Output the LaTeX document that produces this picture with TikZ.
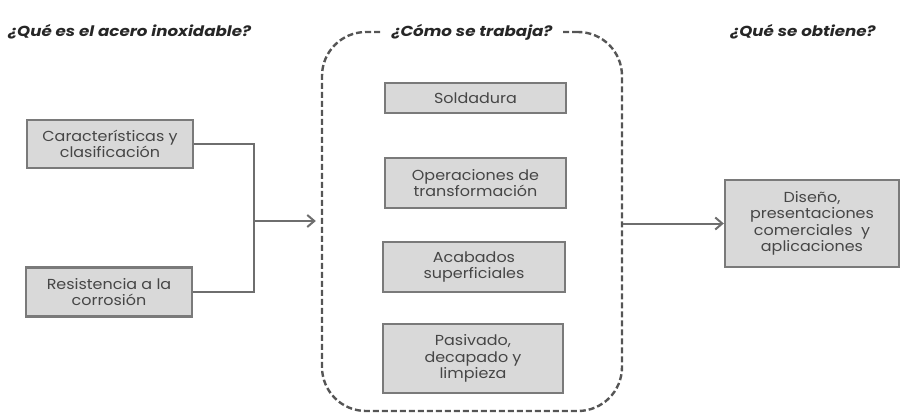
\documentclass[tikz,border=0pt]{standalone}
\usepackage{fontspec}
\setmainfont{Poppins}
\newfontfamily\boxfont[FakeStretch=1.1]{Poppins}
\newfontfamily\ttlfont[FakeStretch=1.15]{Poppins}
\usetikzlibrary{arrows.meta}
\definecolor{boxfill}{HTML}{D9D9D9}
\definecolor{boxline}{HTML}{7A7A7A}
\definecolor{txt}{HTML}{464646}
\definecolor{conn}{HTML}{6E6E6E}
\definecolor{dash}{HTML}{555555}
\begin{document}
\begin{tikzpicture}[x=1pt,y=-1pt,
  gbox/.style={draw=boxline,fill=boxfill,line width=2.4pt,text=txt,align=center,
    font=\boxfont\fontsize{14.5}{16.5}\selectfont,inner sep=0pt},
  ttl/.style={font=\ttlfont\fontsize{14.5}{16}\selectfont\bfseries\itshape,text=black!85},
  conline/.style={draw=conn,line width=2pt},
  conarrow/.style={conline,-{Straight Barb[length=7pt,width=12pt,line width=2pt]}}]
\useasboundingbox (0,0) rectangle (903,415);
% frame
\node[draw=dash,line width=2.4pt,dash pattern=on 6pt off 3pt,rounded corners=44pt,
  minimum width=300pt,minimum height=379pt,inner sep=0pt] (frame) at (472,221.5) {};
% titles
\node[ttl,anchor=west,inner sep=0pt] (t1) at (8,32) {¿Qué es el acero inoxidable?};
\node[ttl,fill=white,inner xsep=11pt,inner ysep=3pt] (t2) at (472,32) {¿Cómo se trabaja?};
\node[ttl,inner sep=0pt] (t3) at (803,32) {¿Qué se obtiene?};
% left boxes
\node[gbox,minimum width=166pt,minimum height=48pt] (a) at (110,144) {Características y\\clasificación};
\node[gbox,minimum width=166pt,minimum height=49pt] (b) at (109,292) {Resistencia a la\\corrosión};
% centre boxes
\node[gbox,minimum width=181pt,minimum height=30pt] (s1) at (475.5,98) {Soldadura};
\node[gbox,minimum width=181pt,minimum height=50pt] (s2) at (475.5,183) {Operaciones de\\transformación};
\node[gbox,minimum width=182pt,minimum height=50pt] (s3) at (474,267) {Acabados\\superficiales};
\node[gbox,minimum width=180pt,minimum height=69pt] (s4) at (473,358.5) {Pasivado,\\decapado y\\limpieza};
% right box
\node[gbox,minimum width=174pt,minimum height=87pt] (r) at (812,223.5) {Diseño,\\presentaciones\\comerciales~ y\\aplicaciones};
% connectors
\coordinate (j) at (254,221);
\draw[conline] (a.east) -| (j) |- (b.east);
\draw[conarrow,shorten >=5pt] (j) -- (frame.west |- j);
\draw[conarrow] (frame.east |- r.west) -- (r.west);
\end{tikzpicture}
\end{document}
